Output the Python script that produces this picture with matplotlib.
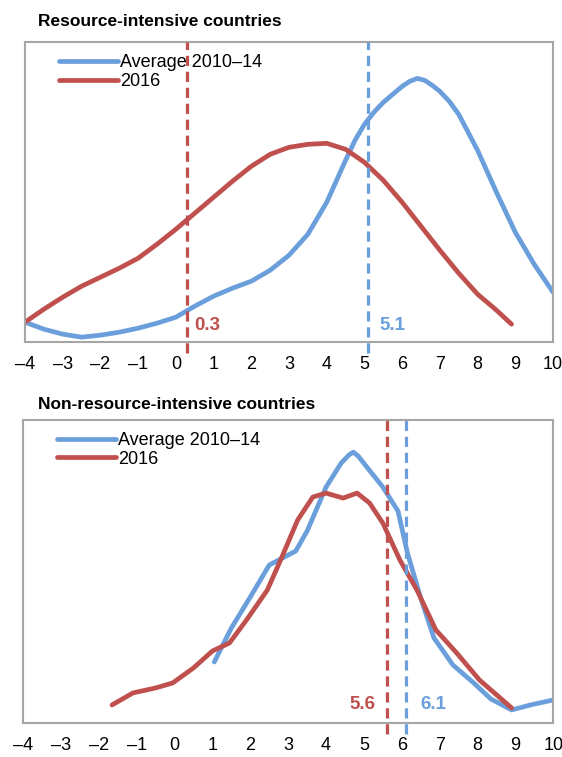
import matplotlib
matplotlib.use("Agg")
import matplotlib.pyplot as plt

# colours
blue = "#6A9FDC"
red = "#C0504D"

# --- Resource-intensive countries ---
top_x_avg = [-4, -3.5, -3, -2.5, -2, -1.5, -1, -0.5, 0, 0.5, 1, 1.5, 2, 2.5, 3, 3.5, 4,
             4.25, 4.5, 4.75, 5, 5.25, 5.5, 5.75, 6, 6.2, 6.4, 6.6, 6.8, 7, 7.25, 7.5,
             8, 8.5, 9, 9.5, 10]
top_y_avg = [20, 13, 8, 5, 7, 10, 14, 19, 25, 36, 46, 54, 61, 72, 87, 108, 140,
             161, 182, 202, 218, 230, 240, 248, 256, 261, 264, 262, 257, 251, 241, 228,
             192, 150, 110, 78, 50]
top_x_2016 = [-4, -3.5, -3, -2.5, -2, -1.5, -1, -0.5, 0, 0.5, 1, 1.5, 2, 2.5, 3, 3.5, 4,
              4.5, 5, 5.5, 6, 6.5, 7, 7.5, 8, 8.5, 8.9]
top_y_2016 = [20, 33, 45, 56, 65, 74, 84, 98, 113, 129, 145, 161, 176, 188, 195, 198, 199,
              193, 180, 162, 140, 116, 92, 69, 48, 32, 18]
top_med_avg = 5.1
top_med_2016 = 0.3

# --- Non-resource-intensive countries ---
bot_x_avg = [1.05, 1.5, 2, 2.5, 2.8, 3.2, 3.5, 4, 4.4, 4.6, 4.72, 4.85, 5.1, 5.5, 5.9,
             6.15, 6.5, 6.85, 7.35, 7.9, 8.35, 8.9, 9.4, 10]
bot_y_avg = [61, 95, 126, 158, 164, 172, 192, 236, 260, 268, 271, 267, 255, 236, 212,
             170, 125, 85, 58, 40, 24, 13, 18, 23]
bot_x_2016 = [-1.65, -1.1, -0.5, -0.05, 0.5, 1.0, 1.45, 1.9, 2.45, 2.8, 3.25, 3.65, 4.0,
              4.45, 4.82, 5.15, 5.5, 5.95, 6.4, 6.9, 7.45, 8.05, 8.9]
bot_y_2016 = [18, 30, 35, 40, 55, 72, 80, 103, 133, 163, 203, 226, 230,
              225, 230, 220, 200, 163, 133, 93, 70, 43, 15]
bot_med_avg = 6.1
bot_med_2016 = 5.6

xticks = list(range(-4, 11))
xticklabels = [str(t).replace("-", "\u2013") for t in xticks]

plt.rcParams['font.family'] = ['Liberation Sans', 'DejaVu Sans']

fig = plt.figure(figsize=(5.62, 7.57), dpi=100)
ax1 = fig.add_axes([0.0445, 0.548, 0.9395, 0.396])
ax2 = fig.add_axes([0.041, 0.045, 0.9435, 0.400])


def style(ax, ymax):
    ax.set_xlim(-4, 10)
    ax.set_ylim(0, ymax)
    ax.set_yticks([])
    ax.set_xticks(xticks)
    ax.set_xticklabels(xticklabels, fontsize=13)
    ax.tick_params(axis='x', length=0, pad=10)
    for s in ax.spines.values():
        s.set_color("#A6A6A6")
        s.set_linewidth(1.5)


def panel(ax, xa, ya, xb, yb, med_a, med_b, ymax):
    style(ax, ymax)
    ax.plot(xa, ya, color=blue, lw=3.4, solid_capstyle='round', solid_joinstyle='round',
            label="Average 2010\u201314")
    ax.plot(xb, yb, color=red, lw=3.4, solid_capstyle='round', solid_joinstyle='round',
            label="2016")
    for m, c in [(med_a, blue), (med_b, red)]:
        ax.axvline(m, ymin=-0.035, ymax=1, color=c, lw=2.3, ls=(0, (3.2, 1.8)),
                   clip_on=False, zorder=6)
    leg = ax.legend(loc='upper left', bbox_to_anchor=(0.05, 0.985), frameon=False,
                    fontsize=13, handlelength=3.3, handletextpad=0.1,
                    labelspacing=0.1, borderaxespad=0)
    leg.set_zorder(1)


panel(ax1, top_x_avg, top_y_avg, top_x_2016, top_y_2016, top_med_avg, top_med_2016, 300)
panel(ax2, bot_x_avg, bot_y_avg, bot_x_2016, bot_y_2016, bot_med_avg, bot_med_2016, 303)

# median labels
ax1.text(top_med_2016 + 0.2, 17, f"{top_med_2016}", color=red, fontsize=13.5,
         fontweight='bold', va='center', ha='left')
ax1.text(top_med_avg + 0.3, 17, f"{top_med_avg}", color=blue, fontsize=13.5,
         fontweight='bold', va='center', ha='left')
ax2.text(bot_med_2016 - 0.3, 18, f"{bot_med_2016}", color=red, fontsize=13.5,
         fontweight='bold', va='center', ha='right')
ax2.text(bot_med_avg + 0.4, 18, f"{bot_med_avg}", color=blue, fontsize=13.5,
         fontweight='bold', va='center', ha='left')

fig.text(38 / 562, 1 - 22 / 757, "Resource-intensive countries", fontsize=12.5,
         fontweight='bold', va='center', ha='left')
fig.text(38 / 562, 1 - 405 / 757, "Non-resource-intensive countries", fontsize=12.5,
         fontweight='bold', va='center', ha='left')

fig.savefig("out.png", dpi=100)
